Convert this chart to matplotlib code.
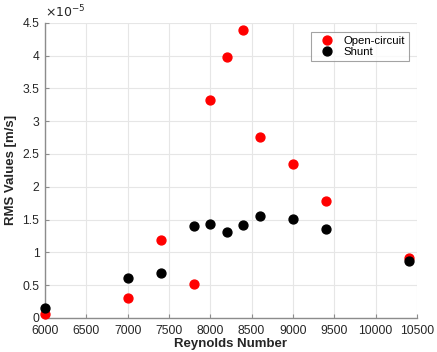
import matplotlib
matplotlib.use("Agg")
import matplotlib.pyplot as plt
from matplotlib.ticker import MultipleLocator

reynolds = [6000, 7000, 7400, 7800, 8000, 8200, 8400, 8600, 9000, 9400, 10400]
open_circuit = [0.06, 0.30, 1.19, 0.52, 3.32, 3.98, 4.39, 2.76, 2.35, 1.79, 0.92]
shunt = [0.15, 0.61, 0.69, 1.40, 1.43, 1.31, 1.41, 1.55, 1.51, 1.36, 0.87]
ytick_labels = ['0', '0.5', '1', '1.5', '2', '2.5', '3', '3.5', '4', '4.5']
scale = 1e-5

plt.rcParams['font.family'] = ['Liberation Sans', 'DejaVu Sans']

fig = plt.figure(figsize=(4.37, 3.52), dpi=100)
ax = fig.add_axes([0.103, 0.097, 0.851, 0.838])

ax.plot(reynolds, [v * scale for v in open_circuit], 'o', color='#ff0000',
        markersize=6.4, label='Open-circuit', zorder=3, clip_on=False)
ax.plot(reynolds, [v * scale for v in shunt], 'o', color='black',
        markersize=6.4, label='Shunt', zorder=3, clip_on=False)

ax.set_xlim(6000, 10500)
ax.set_ylim(0, 4.5e-5)
ax.xaxis.set_major_locator(MultipleLocator(500))
ax.set_yticks([i * 0.5e-5 for i in range(len(ytick_labels))])
ax.set_yticklabels(ytick_labels)
ax.text(0.0, 1.01, r'$\times10^{-5}$', transform=ax.transAxes,
        fontsize=9, color='#262626', va='bottom', ha='left')

ax.grid(True, color='#e6e6e6', linewidth=0.8)
ax.set_axisbelow(True)
for side in ('top', 'right'):
    ax.spines[side].set_visible(False)
for side in ('left', 'bottom'):
    ax.spines[side].set_color('#8c8c8c')
    ax.spines[side].set_linewidth(1.0)
ax.tick_params(direction='in', length=3, width=0.8, colors='#8c8c8c',
               labelsize=8.7, labelcolor='#262626')
ax.tick_params(axis='x', pad=5)
ax.tick_params(axis='y', pad=4)

ax.set_xlabel('Reynolds Number', fontsize=9.5, fontweight='bold', labelpad=1,
              color='#262626')
ax.set_ylabel('RMS Values [m/s]', fontsize=9.5, fontweight='bold', labelpad=4,
              color='#262626')

leg = ax.legend(loc='upper right', bbox_to_anchor=(0.979, 0.97), fontsize=8.2,
                frameon=True, fancybox=False, edgecolor='#8c8c8c',
                handletextpad=0.5, borderpad=0.35, labelspacing=0.15,
                handlelength=2.0, borderaxespad=0.0)
leg.get_frame().set_linewidth(0.8)

fig.savefig('out.png', dpi=100)
